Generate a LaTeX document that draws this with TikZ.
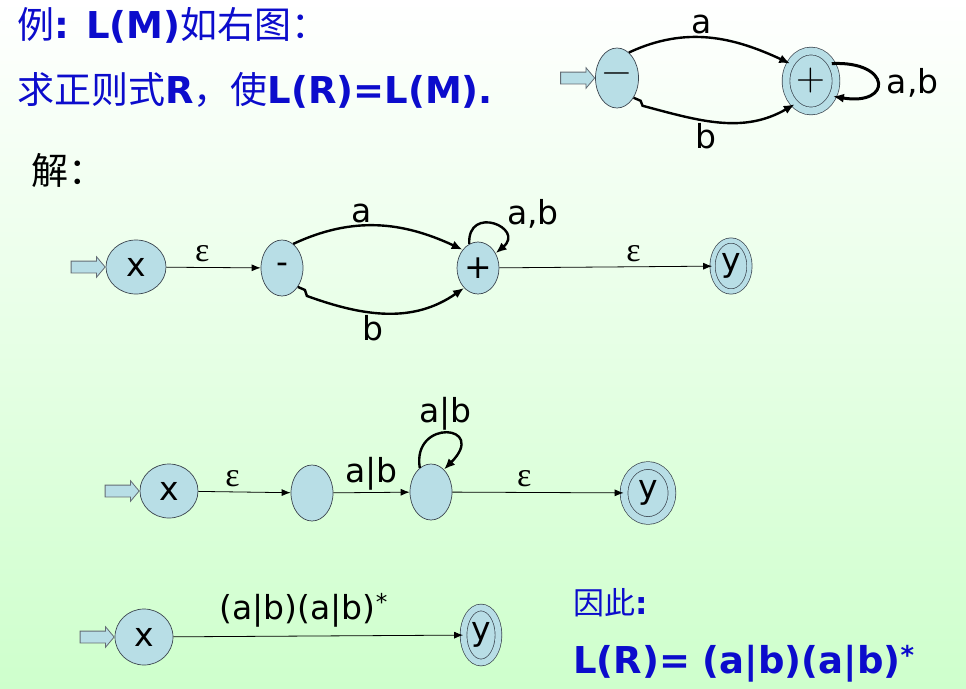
\documentclass[tikz,border=0pt]{standalone}
\usepackage{fontspec}
\setmainfont{DejaVu Sans}
\newfontfamily\cjk{Noto Sans CJK SC}
\newfontfamily\grk{Liberation Serif}
\usetikzlibrary{arrows.meta,shapes.geometric,shapes.arrows,positioning}
\definecolor{figBlue}{RGB}{12,12,204}
\definecolor{stFill}{RGB}{184,222,230}
\definecolor{stLine}{RGB}{60,70,80}
\definecolor{bgMid}{RGB}{238,255,238}
\definecolor{bgBot}{RGB}{206,255,204}

\begin{document}
\begin{tikzpicture}[x=1pt,y=1pt,
  st/.style={ellipse,draw=stLine,fill=stFill,line width=0.7pt,inner sep=0pt,font=\fontsize{33}{33}\selectfont},
  acc/.style={st,double=stFill,double distance=#1},
  entry/.style={single arrow,draw=stLine!80,fill=stFill,line width=0.8pt,minimum height=34pt,inner xsep=0pt,inner ysep=5.5pt,single arrow head extend=4.5pt,single arrow tip angle=100,anchor=tip},
  lab/.style={font=\fontsize{33}{33}\selectfont,inner sep=2pt},
  eps/.style={font=\grk\fontsize{34}{34}\selectfont,inner sep=2pt},
  trans/.style={line width=0.8pt,-{Latex[length=9pt,width=7pt]}},
  hand/.style={line width=2.4pt,-{Latex[length=11pt,width=9pt]}},
  txt/.style={anchor=west,inner sep=0pt,text=figBlue}]
% background
\shade[top color=white,middle color=bgMid,bottom color=bgBot] (0,0) rectangle (966,-688);
\useasboundingbox (0,0) rectangle (966,-688);
% task
\node[txt,font=\fontsize{37}{37}\selectfont] (ttl1) at (17,-25) {{\cjk 例}\textbf{: L(M)}{\cjk 如右图：}};
\node[txt,font=\fontsize{37}{37}\selectfont] (ttl2) at (17,-90) {{\cjk 求正则式}\textbf{R}{\cjk ，使}\textbf{L(R)=L(M).}};
\node[txt,text=black,font=\fontsize{37}{37}\selectfont] (sol) at (31,-170) {{\cjk 解：}};
% given automaton M
\node[st,minimum width=43pt,minimum height=60pt] (m0) at (617,-78) {\fontfamily{lmr}\fontsize{40}{40}\selectfont −};
\node[acc=7pt,minimum width=50pt,minimum height=60pt] (p0) at (811,-81) {\fontfamily{lmr}\fontsize{40}{40}\selectfont +};
\node[entry] (in0) at (m0.west) {};
\draw[hand] (m0.65) to[out=25,in=155] node[lab,pos=0.45,above] {a} (p0.140);
\draw[hand] (m0.-50) -- ++(7,-3) -- ++(2,-5) to[out=-15,in=-150] node[lab,pos=0.4,below] {b} (p0.-125);
\draw[hand,line width=3pt] (p0.40) .. controls +(60,3) and +(60,-10) .. node[lab,pos=0.5,right=6pt] {a,b} (p0.-35);
% step 1: new start x and final y
\node[st,minimum width=60pt,minimum height=54pt] (x1) at (136,-267) {x};
\node[st,minimum width=42pt,minimum height=56pt] (m1) at (282,-268) {-};
\node[st,minimum width=42pt,minimum height=52pt] (p1) at (478,-268) {+};
\node[acc=4.5pt,minimum width=37pt,minimum height=51pt] (y1) at (731,-266) {y};
\node[entry] (in1) at (x1.west) {};
\draw[trans] (x1) -- node[eps,pos=0.38,above=3pt] {ε} (m1);
\draw[hand] (m1.65) to[out=25,in=155] node[lab,pos=0.4,above] {a} (p1.130);
\draw[hand] (m1.-50) -- ++(7,-3) -- ++(2,-6) to[out=-20,in=-145] node[lab,pos=0.4,below] {b} (p1.-125);
\draw[hand] (p1.110) .. controls +(-2,40) and +(30,25) .. node[lab,pos=0.55,above right=-6pt and 8pt] {a,b} (p1.40);
\draw[trans] (p1) -- node[eps,pos=0.63,above=3pt] {ε} (y1);
% step 2: a,b merged into a|b
\node[st,minimum width=58pt,minimum height=54pt] (x2) at (169,-491) {x};
\node[st,minimum width=42pt,minimum height=56pt] (s1) at (312,-493) {};
\node[st,minimum width=42pt,minimum height=56pt] (s2) at (431,-492) {};
\node[acc=7pt,minimum width=48pt,minimum height=55pt] (y2) at (648,-493) {y};
\node[entry] (in2) at (x2.west) {};
\draw[trans] (x2) -- node[eps,pos=0.37,above=3pt] {ε} (s1);
\draw[trans] (s1) -- node[lab,pos=0.5,above] {a|b} (s2);
\draw[hand] (s2.115) .. controls +(-8,50) and +(45,45) .. node[lab,pos=0.5,above] {a|b} (s2.60);
\draw[trans] (s2) -- node[eps,pos=0.42,above=3pt] {ε} (y2);
% step 3: one transition
\node[st,minimum width=58pt,minimum height=56pt] (x3) at (144,-637) {x};
\node[acc=6pt,minimum width=35pt,minimum height=55pt] (y3) at (481,-635) {y};
\node[entry] (in3) at (x3.west) {};
\draw[trans] (x3) -- node[lab,pos=0.45,above=6pt] {(a|b)(a|b)\textsuperscript{*}} (y3);
% result
\node[txt,font=\fontsize{31}{31}\selectfont] (hence) at (573,-603) {{\cjk 因此}\textbf{:}};
\node[txt,font=\bfseries\fontsize{37}{37}\selectfont] (res) at (573,-664) {L(R)= (a|b)(a|b)\textsuperscript{*}};
\end{tikzpicture}
\end{document}
